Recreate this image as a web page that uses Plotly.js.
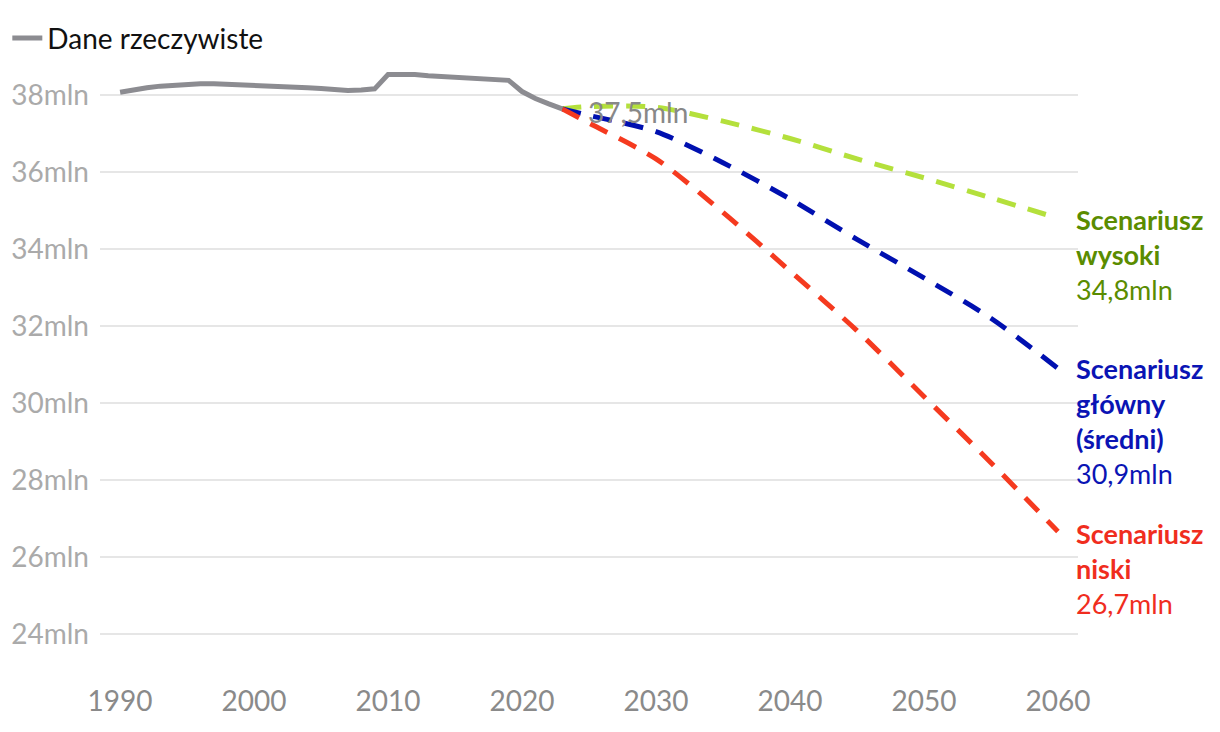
<!DOCTYPE html>
<html>
<head>
<meta charset="utf-8">
<script src="https://cdn.plot.ly/plotly-3.0.1.min.js"></script>
<style>html,body{margin:0;padding:0;background:#fff;}#chart{width:1220px;height:732px;}</style>
</head>
<body>
<div id="chart"></div>
<script>
// Historical data (mln)
const histYears = [1990,1991,1992,1993,1994,1995,1996,1997,1998,1999,2000,2001,2002,2003,2004,2005,2006,2007,2008,2009,2010,2011,2012,2013,2014,2015,2016,2017,2018,2019,2020,2021,2022,2023];
const histValues = [38.07,38.14,38.19,38.23,38.26,38.28,38.29,38.29,38.28,38.27,38.26,38.25,38.23,38.20,38.19,38.17,38.13,38.12,38.13,38.16,38.53,38.54,38.53,38.50,38.48,38.44,38.43,38.43,38.41,38.38,38.09,37.91,37.77,37.64];

// Projections
const projYears = [2023,2025,2030,2035,2040,2045,2050,2055,2060];
const highValues = [37.64,37.70,37.68,37.32,36.87,36.34,35.85,35.33,34.80];
const mainValues = [37.64,37.47,37.05,36.24,35.30,34.25,33.25,32.20,30.90];
const lowValues  = [37.64,37.27,36.34,34.95,33.43,31.88,30.17,28.45,26.66];

const yTicks = [24,26,28,30,32,34,36,38];
const xTicks = [1990,2000,2010,2020,2030,2040,2050,2060];

const legendName = "Dane rzeczywiste";
const startLabel = "37,5mln";
const scenarioLabels = [
  {name: "Scenariusz<br>wysoki", value: "34,8mln", color: "#5a8c00", yc: 33.87},
  {name: "Scenariusz<br>główny<br>(średni)", value: "30,9mln", color: "#0a14b4", yc: 29.53},
  {name: "Scenariusz<br>niski", value: "26,7mln", color: "#f02d1e", yc: 25.70}
];

const FONT = "Lato, 'Open Sans', sans-serif";
const dash = "19px,13px";

const traces = [
  {x: projYears, y: highValues, mode: "lines", line: {color: "#b4e03c", width: 5, dash: dash, shape: "spline", smoothing: 0.8}, showlegend: false, hoverinfo: "skip"},
  {x: projYears, y: mainValues, mode: "lines", line: {color: "#0010b0", width: 5, dash: dash, shape: "spline", smoothing: 0.8}, showlegend: false, hoverinfo: "skip"},
  {x: projYears, y: lowValues, mode: "lines", line: {color: "#f53a1f", width: 5, dash: dash, shape: "spline", smoothing: 0.8}, showlegend: false, hoverinfo: "skip"},
  {x: histYears, y: histValues, mode: "lines", name: legendName, line: {color: "#8c8c91", width: 5}, showlegend: true}
];

const annotations = [
  {x: 2024.8, y: 37.56, xref: "x", yref: "y", text: startLabel, showarrow: false, xanchor: "left", yanchor: "middle",
   font: {family: FONT, size: 28, color: "#888888"}}
];
scenarioLabels.forEach(s => {
  annotations.push({
    x: 1, xshift: -4, y: s.yc, xref: "paper", yref: "y", showarrow: false, xanchor: "left", yanchor: "middle", align: "left",
    text: "<b>" + s.name + "</b><br>" + s.value,
    font: {family: FONT, size: 27, color: s.color}
  });
});

const layout = {
  width: 1220, height: 732,
  margin: {l: 100, r: 142, t: 60, b: 52, autoexpand: false},
  paper_bgcolor: "#fff", plot_bgcolor: "#fff",
  font: {family: FONT},
  showlegend: true,
  legend: {x: 0.006, y: 0.982, xref: "container", yref: "container", xanchor: "left", yanchor: "top",
           font: {family: FONT, size: 28, color: "#111"}, bgcolor: "rgba(0,0,0,0)"},
  xaxis: {range: [1988.5, 2061.5], tickvals: xTicks, ticktext: xTicks.map(String), showgrid: false, zeroline: false,
          showline: false, ticks: "", tickfont: {family: FONT, size: 28, color: "#8a8a8a"}, ticklabelstandoff: 2},
  yaxis: {range: [22.805, 38.909], tickvals: yTicks, ticktext: yTicks.map(v => v + "mln"), showgrid: true,
          gridcolor: "#e6e6e6", gridwidth: 2, zeroline: false, showline: false, ticks: "",
          tickfont: {family: FONT, size: 28, color: "#aaaaaa"}, ticklabelstandoff: 10},
  annotations: annotations
};

Plotly.newPlot("chart", traces, layout, {displayModeBar: false, staticPlot: true});
</script>
</body>
</html>
